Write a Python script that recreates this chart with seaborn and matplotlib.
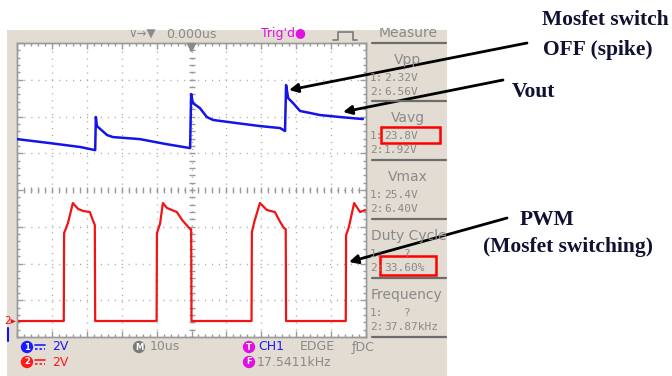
import numpy as np
import pandas as pd
import matplotlib
matplotlib.use("Agg")
import matplotlib.pyplot as plt
import seaborn as sns
from matplotlib.patches import Rectangle, FancyArrowPatch
from matplotlib.transforms import Bbox, TransformedBbox

# ---------------- data ----------------
# CH2 (red) PWM gate signal: time in us (0 = trigger, centre), volts
red_t = [-50.0, -36.6, -36.5, -35.4, -34.0, -32.5, -31.1, -29.1, -28.5, -27.7, -27.6,
         -10.0, -9.9, -9.0, -8.2, -7.0, -4.2, -2.7, -0.4, -0.1, 0.0,
         17.2, 17.3, 18.0, 19.6, 21.6, 23.9, 25.4, 26.5, 27.0, 27.1,
         44.2, 44.3, 45.1, 46.6, 48.3, 49.7, 50.0]
red_v = [0.0, 0.0, 4.79, 5.33, 6.42, 6.10, 5.99, 5.93, 5.60, 5.22, 0.0,
         0.0, 4.79, 5.30, 6.42, 6.15, 5.93, 5.50, 5.00, 5.00, 0.0,
         0.0, 4.84, 5.40, 6.42, 6.04, 5.93, 5.39, 5.06, 5.00, 0.0,
         0.0, 4.68, 5.12, 6.42, 5.93, 6.04, 6.00]

# CH1 (blue) output voltage Vout: time in us, volts
blue_t = [-50.0, -40.5, -31.9, -27.6, -27.4, -27.1, -24.2, -22.5, -14.8, -7.6, -0.4,
          -0.1, 0.4, 2.4, 4.4, 6.2, 13.0, 19.6, 25.4, 26.8,
          27.1, 27.7, 29.1, 31.1, 34.0, 36.8, 42.6, 49.1]
blue_v = [22.46, 22.24, 22.03, 21.86, 23.66, 23.17, 22.68, 22.57, 22.46, 22.20, 21.97,
          24.91, 24.42, 24.15, 23.66, 23.50, 23.33, 23.17, 23.06, 22.90,
          25.40, 24.69, 24.42, 23.99, 23.88, 23.77, 23.66, 23.55]

time_per_div_us = 10
ch1_v_per_div = 2
ch2_v_per_div = 2
n_xdiv = 10
n_ydiv = 8
ch2_bottom_v = -0.87     # CH2 ground sits ~0.44 div above the bottom edge
ch1_bottom_v = 11.69     # CH1 offset (screen bottom in CH1 volts)

measure_titles = ["Vpp", "Vavg", "Vmax", "Duty Cycle", "Frequency"]
measure_ch1 = ["2.32V", "23.8V", "25.4V", "?", "?"]
measure_ch2 = ["6.56V", "1.92V", "6.40V", "33.60%", "37.87kHz"]

ann_spike = ["Mosfet switch", "OFF (spike)"]
ann_vout = "Vout"
ann_pwm = ["PWM", "(Mosfet switching)"]

# ---------------- style ----------------
sns.set_style("white")
plt.rcParams["font.family"] = ["DejaVu Sans"]

W, H = 672, 376
fig = plt.figure(figsize=(W / 100, H / 100), dpi=100)


def rect(x0, y0, x1, y1):
    return [x0 / W, 1 - y1 / H, (x1 - x0) / W, (y1 - y0) / H]


GRAY = "#8a8a8a"
BEIGE = "#e2dcd2"

# background (scope bezel)
bg = fig.add_axes([0, 0, 1, 1], zorder=-5)
bg.set_xlim(0, W)
bg.set_ylim(H, 0)
bg.axis("off")
bg.add_patch(Rectangle((7, 30), 440, 346, fc=BEIGE, ec="none"))

# ---------------- scope screen ----------------
ax = fig.add_axes(rect(17, 43, 366, 337), zorder=1)
ax.set_facecolor("white")
ax2 = ax.twinx()

# graticule
dot = (0, (0.8, 4.2))
for i in range(1, n_xdiv):
    ax.plot([i / n_xdiv] * 2, [0, 1], transform=ax.transAxes, ls=dot, lw=1.0,
            color="#a8a8a8", zorder=1)
for j in range(1, n_ydiv):
    ax.plot([0, 1], [j / n_ydiv] * 2, transform=ax.transAxes, ls=dot, lw=1.0,
            color="#a8a8a8", zorder=1)
xs = np.linspace(0, 1, n_xdiv * 5 + 1)
ys = np.linspace(0, 1, n_ydiv * 5 + 1)
ax.plot(xs, [0.5] * len(xs), transform=ax.transAxes, ls="none", marker="|",
        ms=5, mew=1.0, color="#9a9a9a", zorder=1)
ax.plot([0.5] * len(ys), ys, transform=ax.transAxes, ls="none", marker="_",
        ms=5, mew=1.0, color="#9a9a9a", zorder=1)

# traces
sns.lineplot(x=red_t, y=red_v, ax=ax, sort=False, estimator=None,
             color="#f01414", lw=1.6, zorder=3)
sns.lineplot(x=blue_t, y=blue_v, ax=ax2, sort=False, estimator=None,
             color="#1414e8", lw=1.8, zorder=3)

half = n_xdiv * time_per_div_us / 2
ax.set_xlim(-half, half)
ax.set_ylim(ch2_bottom_v, ch2_bottom_v + n_ydiv * ch2_v_per_div)
ax2.set_ylim(ch1_bottom_v, ch1_bottom_v + n_ydiv * ch1_v_per_div)
ax.set_xticks(np.arange(-half, half + 0.1, time_per_div_us))
ax.set_xticks(np.arange(-half, half + 0.1, time_per_div_us / 5), minor=True)
ax.set_yticks(ch2_bottom_v + np.arange(0, n_ydiv + 1) * ch2_v_per_div)
ax.set_yticks(ch2_bottom_v + np.arange(0, n_ydiv * 5 + 1) * ch2_v_per_div / 5, minor=True)
ax.tick_params(which="both", direction="in", top=True, bottom=True, left=True,
               right=True, labelbottom=False, labelleft=False, color="#9a9a9a")
ax.tick_params(which="major", length=4, width=1)
ax.tick_params(which="minor", length=2.5, width=1)
ax2.set_yticks([])
ax2.tick_params(right=False, labelright=False)
for a in (ax, ax2):
    a.set_xlabel("")
    a.set_ylabel("")
    for s in a.spines.values():
        s.set_color("#9a9a9a")
        s.set_linewidth(1.0)

# ---------------- overlay (texts, panel, arrows) ----------------
ov = fig.add_axes([0, 0, 1, 1], zorder=10)
ov.set_xlim(0, W)
ov.set_ylim(H, 0)
ov.axis("off")
ov.patch.set_alpha(0)

clipbb = TransformedBbox(Bbox([[367, 28], [447, 376]]), ov.transData)


def ctext(x, y, s, **kw):
    t = ov.text(x, y, s, **kw)
    t.set_clip_box(clipbb)
    t.set_clip_on(True)
    return t


# top bar
ov.text(128, 34, "\u2228\u2192\u25bc", color=GRAY, fontsize=8.5, va="center", ha="left")
ov.text(166, 34, "0.000us", color=GRAY, fontsize=9, va="center", ha="left")
ov.text(261, 34, "Trig'd\u25cf", color="#e010e0", fontsize=9, va="center", ha="left")
ov.plot([333, 338, 338, 353, 353, 357], [40, 40, 32, 32, 40, 40], color="#7a7a7a", lw=1.2)
ov.plot([191], [47], marker="v", ms=6, color="#8a8a8a", ls="none")

# measure panel
for y in [43, 101, 160, 219, 278, 337]:
    ov.plot([372, 446], [y, y], color="#6c6c6c", lw=1.6)
ctext(408, 33, "Measure", color=GRAY, fontsize=10, ha="center", va="center")
tops = [43, 101, 160, 219, 278]
for k, top in enumerate(tops):
    title = measure_titles[k]
    if len(title) > 4:
        ctext(371, top + 17, title, color=GRAY, fontsize=10, ha="left", va="center")
    else:
        ctext(408, top + 17, title, color=GRAY, fontsize=10, ha="center", va="center")
    ctext(370, top + 35, "1:", color=GRAY, fontsize=8, family="DejaVu Sans Mono",
          ha="left", va="center")
    ctext(370, top + 49, "2:", color=GRAY, fontsize=8, family="DejaVu Sans Mono",
          ha="left", va="center")
    v1 = measure_ch1[k]
    if v1 == "?":
        ctext(407, top + 35, v1, color=GRAY, fontsize=8, family="DejaVu Sans Mono",
              ha="center", va="center")
    else:
        ctext(384, top + 35, v1, color=GRAY, fontsize=8, family="DejaVu Sans Mono",
              ha="left", va="center")
    ctext(384, top + 49, measure_ch2[k], color=GRAY, fontsize=8,
          family="DejaVu Sans Mono", ha="left", va="center")

ov.add_patch(Rectangle((381, 127), 59, 16, fill=False, ec="#ff0000", lw=1.8))
ov.add_patch(Rectangle((380, 256), 56, 19, fill=False, ec="#ff0000", lw=1.8))

# channel markers on left
ov.text(16, 321, "2\u25b8", color="#f01414", fontsize=7.5, ha="right", va="center")
ov.plot([8, 8], [328, 341], color="#1414e8", lw=1.5)


# bottom status bar
def badge(x, y, s, fc):
    ov.text(x, y, s, color="white", fontsize=6, fontweight="bold", ha="center",
            va="center", bbox=dict(boxstyle="circle,pad=0.2", fc=fc, ec="none"))


def dc_symbol(x, y, color):
    # "DC" symbol (solid line over dashed line); no installed font has U+2393
    ov.plot([x, x + 10], [y - 2, y - 2], color=color, lw=1.2)
    ov.plot([x, x + 10], [y + 2, y + 2], color=color, lw=1.2, ls=(0, (1.5, 1.2)))


badge(27, 347, "1", "#1a1aff")
badge(27, 362, "2", "#ff1a1a")
dc_symbol(35, 347, "#1a1aff")
dc_symbol(35, 362, "#ff1a1a")
ov.text(52, 347, "2V", color="#1a1aff", fontsize=9, ha="left", va="center")
ov.text(52, 362, "2V", color="#ff1a1a", fontsize=9, ha="left", va="center")
badge(139, 347, "M", "#7a7a7a")
ov.text(150, 347, "10us", color=GRAY, fontsize=9, ha="left", va="center")
badge(249, 347, "T", "#e010e0")
ov.text(258, 347, "CH1", color="#1a1aff", fontsize=9, ha="left", va="center")
ov.text(300, 347, "EDGE", color=GRAY, fontsize=9, ha="left", va="center")
ov.text(352, 347, "\u0192DC", color=GRAY, fontsize=9, ha="left", va="center")
badge(249, 362, "F", "#e010e0")
ov.text(257, 362, "17.5411kHz", color=GRAY, fontsize=9, ha="left", va="center")

# annotations
NAVY = "#111133"
serif = dict(family="Liberation Serif", fontweight="bold", fontsize=15.5, color=NAVY,
             va="baseline", ha="left")
ov.text(542, 25, ann_spike[0], **serif)
ov.text(543, 55, ann_spike[1], **serif)
ov.text(512, 97, ann_vout, **serif)
ov.text(520, 225, ann_pwm[0], **serif)
ov.text(483, 252, ann_pwm[1], **serif)

for (x0, y0), (x1, y1) in [((527, 43), (289, 90)), ((503, 80), (343, 112)),
                           ((507, 218), (349, 262))]:
    ov.add_patch(FancyArrowPatch((x0, y0), (x1, y1), arrowstyle="-|>",
                                 mutation_scale=13, lw=2.0, color="black",
                                 shrinkA=0, shrinkB=0))

fig.savefig("out.png", dpi=100)
